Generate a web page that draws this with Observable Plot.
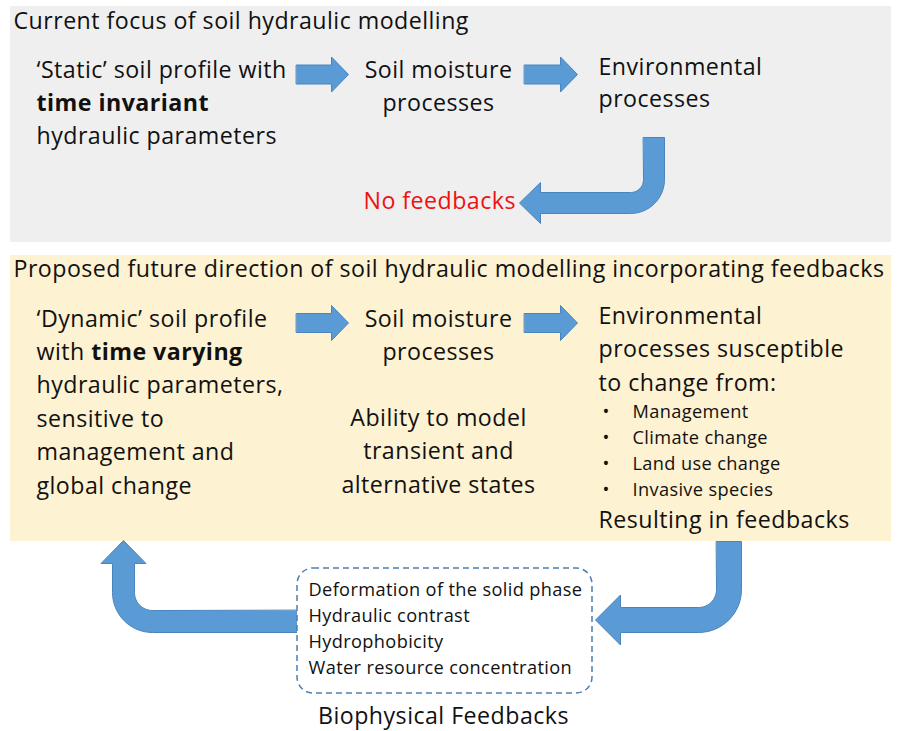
<!DOCTYPE html>
<html><head><meta charset="utf-8">
<script src="https://cdn.jsdelivr.net/npm/d3@7"></script>
<script src="https://cdn.jsdelivr.net/npm/@observablehq/plot@0.6"></script>
<style>body{margin:0;background:#fff}#chart svg{display:block}#chart svg text{letter-spacing:0.02em}</style>
</head><body><div id="chart"></div>
<script>
// ---------------- content ----------------
const currentTitle = "Current focus of soil hydraulic modelling";
const futureTitle = "Proposed future direction of soil hydraulic modelling incorporating feedbacks";
const staticProfile = ["‘Static’ soil profile with", "time invariant", "hydraulic parameters"];
const staticBold = [false, true, false];
const moistureLabel = ["Soil moisture", "processes"];
const envCurrent = ["Environmental", "processes"];
const noFeedbacks = "No feedbacks";
const dynamicProfile = ["‘Dynamic’ soil profile", "with ", "hydraulic parameters,", "sensitive to", "management and", "global change"];
const dynamicBoldPart = "time varying";
const abilityLines = ["Ability to model", "transient and", "alternative states"];
const envFuture = ["Environmental", "processes susceptible", "to change from:"];
const drivers = ["Management", "Climate change", "Land use change", "Invasive species"];
const resulting = "Resulting in feedbacks";
const feedbackList = ["Deformation of the solid phase", "Hydraulic contrast", "Hydrophobicity", "Water resource concentration"];
const feedbackTitle = "Biophysical Feedbacks";

// ---------------- layout ----------------
const W = 899, H = 731;
const FONT = "Open Sans";
const ink = "#111111";
const arrowFill = "#5b9bd5", arrowStroke = "#4a84bf";
const S = 23.2;    // main text size
const SB = 18.2;   // bullet size
const SF = 18.2;   // feedback list size
const ST = 23.2;   // caption size
const LS = 0.02;   // letter spacing (em)

const ctx = document.createElement("canvas").getContext("2d");
const tw = (s, size, weight = "normal") => {
  ctx.font = `${weight} ${size}px "${FONT}"`;
  if ("letterSpacing" in ctx) { ctx.letterSpacing = `${LS * size}px`; return ctx.measureText(s).width; }
  return ctx.measureText(s).width + s.length * LS * size;
};
const block = (arr, x, y0, dy) => arr.map((t, i) => ({t, x, y: y0 + i * dy}));

// panels
const panelTop = [{x1: 10, x2: 891, y1: 6, y2: 242}];
const panelBottom = [{x1: 10, x2: 891, y1: 255, y2: 541}];
const feedbackBox = [{x1: 297, x2: 592, y1: 568, y2: 693}];

// straight block arrows
function straightArrow(id, x0, x1, yc, shaft = 19, head = 35, headLen = 17) {
  const s = shaft / 2, h = head / 2, hb = x1 - headLen;
  return [[x0, yc - s], [hb, yc - s], [hb, yc - h], [x1, yc], [hb, yc + h], [hb, yc + s], [x0, yc + s]]
    .map(([x, y]) => ({id, x, y}));
}
function arc(cx, cy, r, a0, a1, n = 16) {
  return d3.range(n + 1).map(i => { const a = a0 + (a1 - a0) * i / n; return [cx + r * Math.cos(a), cy + r * Math.sin(a)]; });
}
// goes down, then turns left; head on the left
function downLeftArrow(id, vxR, yTop, hyB, w, R, hb, tip, head) {
  const cx = vxR - R, cy = hyB - R, yc = hyB - w / 2;
  const pts = [[vxR - w, yTop], [vxR, yTop], ...arc(cx, cy, R, 0, Math.PI / 2),
    [hb, hyB], [hb, yc + head / 2], [tip, yc], [hb, yc - head / 2], [hb, hyB - w],
    ...arc(cx, cy, R - w, Math.PI / 2, 0)];
  return pts.map(([x, y]) => ({id, x, y}));
}
// goes left, then turns up; head on top
function leftUpArrow(id, vxL, xRight, hyB, w, R, hbY, tipY, head) {
  const cx = vxL + R, cy = hyB - R, xc = vxL + w / 2;
  const pts = [[xRight, hyB - w], [xRight, hyB], ...arc(cx, cy, R, Math.PI / 2, Math.PI),
    [vxL, hbY], [xc - head / 2, hbY], [xc, tipY], [xc + head / 2, hbY], [vxL + w, hbY],
    ...arc(cx, cy, R - w, Math.PI, Math.PI / 2)];
  return pts.map(([x, y]) => ({id, x, y}));
}
const arrows = [
  ...straightArrow("a1", 296, 348, 74),
  ...straightArrow("a2", 524, 577, 74),
  ...straightArrow("a3", 296, 348, 322.5),
  ...straightArrow("a4", 524, 577, 322.5),
  ...downLeftArrow("b1", 664, 137, 213, 21, 34, 540, 519, 41),
  ...downLeftArrow("b2", 741, 541, 632, 25, 43, 620, 595, 50),
  ...leftUpArrow("b3", 112, 297, 632, 22, 40, 563, 540, 45)
];

const txt = (data, o) => Plot.text(data, {x: "x", y: "y", text: "t", fontFamily: FONT, lineAnchor: "bottom", fill: ink, ...o});

const dynBoldX = 36 + tw("with ", S);

const chart = Plot.plot({
  width: W, height: H, margin: 0,
  x: {domain: [0, W], range: [0, W], axis: null},
  y: {domain: [0, H], range: [0, H], axis: null},
  style: {background: "white"},
  marks: [
    Plot.rect(panelTop, {x1: "x1", x2: "x2", y1: "y1", y2: "y2", fill: "#efefef"}),
    Plot.rect(panelBottom, {x1: "x1", x2: "x2", y1: "y1", y2: "y2", fill: "#fdf2d2"}),
    Plot.line(arrows, {x: "x", y: "y", z: "id", curve: "linear-closed", fill: arrowFill, stroke: arrowStroke, strokeWidth: 1}),
    Plot.rect(feedbackBox, {x1: "x1", x2: "x2", y1: "y1", y2: "y2", rx: 16, fill: "white", stroke: "#4f7fae", strokeWidth: 1.5, strokeDasharray: "6,4"}),
    // top panel
    txt([{t: currentTitle, x: 13, y: 28}], {fontSize: S, textAnchor: "start"}),
    txt(block(staticProfile, 36, 77, 33).filter((d, i) => !staticBold[i]), {fontSize: S, textAnchor: "start"}),
    txt(block(staticProfile, 36, 77, 33).filter((d, i) => staticBold[i]), {fontSize: S, textAnchor: "start", fontWeight: "bold"}),
    txt(block(moistureLabel, 438, 77, 33), {fontSize: S, textAnchor: "middle"}),
    txt(block(envCurrent, 598, 74, 32), {fontSize: S, textAnchor: "start"}),
    txt([{t: noFeedbacks, x: 363, y: 208}], {fontSize: S, textAnchor: "start", fill: "#ee1111"}),
    // bottom panel
    txt([{t: futureTitle, x: 13, y: 276}], {fontSize: S, textAnchor: "start"}),
    txt(block(dynamicProfile, 36, 326, 33.4), {fontSize: S, textAnchor: "start"}),
    txt([{t: dynamicBoldPart, x: dynBoldX, y: 326 + 33.4}], {fontSize: S, textAnchor: "start", fontWeight: "bold"}),
    txt(block(moistureLabel, 438, 326, 33), {fontSize: S, textAnchor: "middle"}),
    txt(block(abilityLines, 438, 425, 33.8), {fontSize: S, textAnchor: "middle"}),
    txt(block(envFuture, 598, 323, 33.5), {fontSize: S, textAnchor: "start"}),
    txt(block(drivers.map(() => "•"), 602, 417, 26), {fontSize: SB, textAnchor: "start"}),
    txt(block(drivers, 632, 417, 26), {fontSize: SB, textAnchor: "start"}),
    txt([{t: resulting, x: 598, y: 527}], {fontSize: S, textAnchor: "start"}),
    // feedbacks
    txt(block(feedbackList, 308, 595, 26), {fontSize: SF, textAnchor: "start"}),
    txt([{t: feedbackTitle, x: 443, y: 723}], {fontSize: ST, textAnchor: "middle"})
  ]
});
document.getElementById("chart").append(chart);
</script>
</body></html>
